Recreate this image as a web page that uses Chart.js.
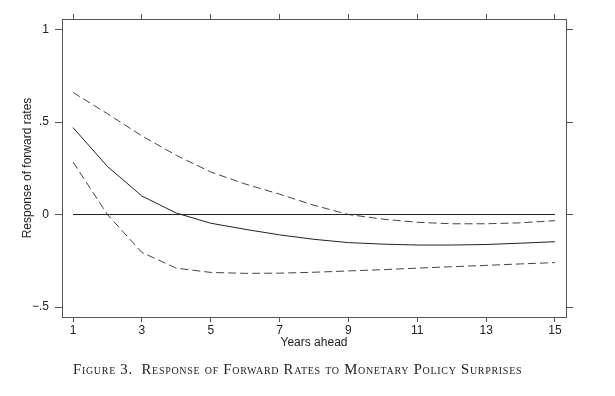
<!DOCTYPE html>
<html>
<head>
<meta charset="utf-8">
<script src="https://cdn.jsdelivr.net/npm/chart.js@4/dist/chart.umd.min.js"></script>
<style>
  html, body { margin: 0; padding: 0; background: #fff; }
  #wrap { position: relative; width: 615px; height: 396px; }
  #caption {
    position: absolute; left: 73px; top: 361.5px; line-height: 1;
    font-family: "Liberation Serif", "DejaVu Serif", serif;
    font-variant: small-caps; font-size: 14.75px; color: #222;
    white-space: nowrap; letter-spacing: 0.7px;
  }
</style>
</head>
<body>
<div id="wrap">
  <canvas id="c" width="615" height="396"></canvas>
  <div id="caption">Figure 3.&nbsp; Response of Forward Rates to Monetary Policy Surprises</div>
</div>
<script>
const years = [1, 2, 3, 4, 5, 6, 7, 8, 9, 10, 11, 12, 13, 14, 15];
const pointEstimate = [0.47, 0.26, 0.10, 0.008, -0.047, -0.08, -0.11, -0.134, -0.152, -0.16, -0.165, -0.165, -0.162, -0.155, -0.147];
const upperBand = [0.66, 0.545, 0.425, 0.32, 0.23, 0.165, 0.11, 0.05, 0.0, -0.025, -0.042, -0.05, -0.05, -0.045, -0.033];
const lowerBand = [0.284, 0.0, -0.205, -0.29, -0.313, -0.318, -0.317, -0.312, -0.305, -0.298, -0.29, -0.282, -0.275, -0.267, -0.26];
const zeroLine = [0, 0];
const zeroYears = [1, 15];
const xTicks = [1, 3, 5, 7, 9, 11, 13, 15];
const yTicks = [-0.5, 0, 0.5, 1];
const yTickLabels = ['\u2212.5', '0', '.5', '1'];

const toPts = (xs, ys) => xs.map((x, i) => ({ x: x, y: ys[i] }));
const frame = '#555';
const font = { family: '"Liberation Sans", Arial, sans-serif', size: 12 };

const xScale = (pos, showTicks) => ({
  type: 'linear', position: pos, min: 0.68, max: 15.32,
  afterBuildTicks: s => { s.ticks = xTicks.map(v => ({ value: v })); },
  ticks: { display: showTicks, font: font, color: '#222', padding: 1, maxRotation: 0, autoSkip: false },
  grid: { display: true, drawOnChartArea: false, drawTicks: true, tickLength: 5, color: frame },
  border: { display: true, color: frame, width: 1 }
});
const yScale = (pos, showTicks) => ({
  type: 'linear', position: pos, min: -0.554, max: 1.057,
  afterBuildTicks: s => { s.ticks = yTicks.map(v => ({ value: v })); },
  ticks: { display: showTicks, font: font, color: '#222', padding: 6,
           callback: v => yTickLabels[yTicks.indexOf(v)] },
  grid: { display: true, drawOnChartArea: false, drawTicks: true, tickLength: 7, color: frame },
  border: { display: true, color: frame, width: 1 }
});

const scales = {
  x: Object.assign(xScale('bottom', true), {
    title: { display: true, text: 'Years ahead', font: font, color: '#222', padding: { top: 0, bottom: 46 } },
    afterFit: s => { s.height = 79; }
  }),
  x2: Object.assign(xScale('top', false), { afterFit: s => { s.height = 19; } }),
  y: Object.assign(yScale('left', true), {
    title: { display: true, text: 'Response of forward rates', font: font, color: '#222', padding: { top: 20, bottom: 0 } },
    afterFit: s => { s.width = 62; }
  }),
  y2: Object.assign(yScale('right', false), { afterFit: s => { s.width = 49; } })
};

new Chart(document.getElementById('c'), {
  type: 'line',
  data: {
    datasets: [
      { data: toPts(zeroYears, zeroLine), borderColor: '#222', borderWidth: 1, pointRadius: 0, xAxisID: 'x', yAxisID: 'y' },
      { data: toPts(years, upperBand), borderColor: '#444', borderWidth: 1, borderDash: [8, 4], pointRadius: 0, tension: 0, xAxisID: 'x', yAxisID: 'y' },
      { data: toPts(years, pointEstimate), borderColor: '#222', borderWidth: 1, pointRadius: 0, tension: 0, xAxisID: 'x', yAxisID: 'y' },
      { data: toPts(years, lowerBand), borderColor: '#444', borderWidth: 1, borderDash: [8, 4], pointRadius: 0, tension: 0, xAxisID: 'x', yAxisID: 'y' }
    ]
  },
  options: {
    responsive: false, animation: false, devicePixelRatio: 1,
    layout: { padding: 0 },
    plugins: { legend: { display: false }, tooltip: { enabled: false } },
    scales: scales
  }
});
</script>
</body>
</html>
